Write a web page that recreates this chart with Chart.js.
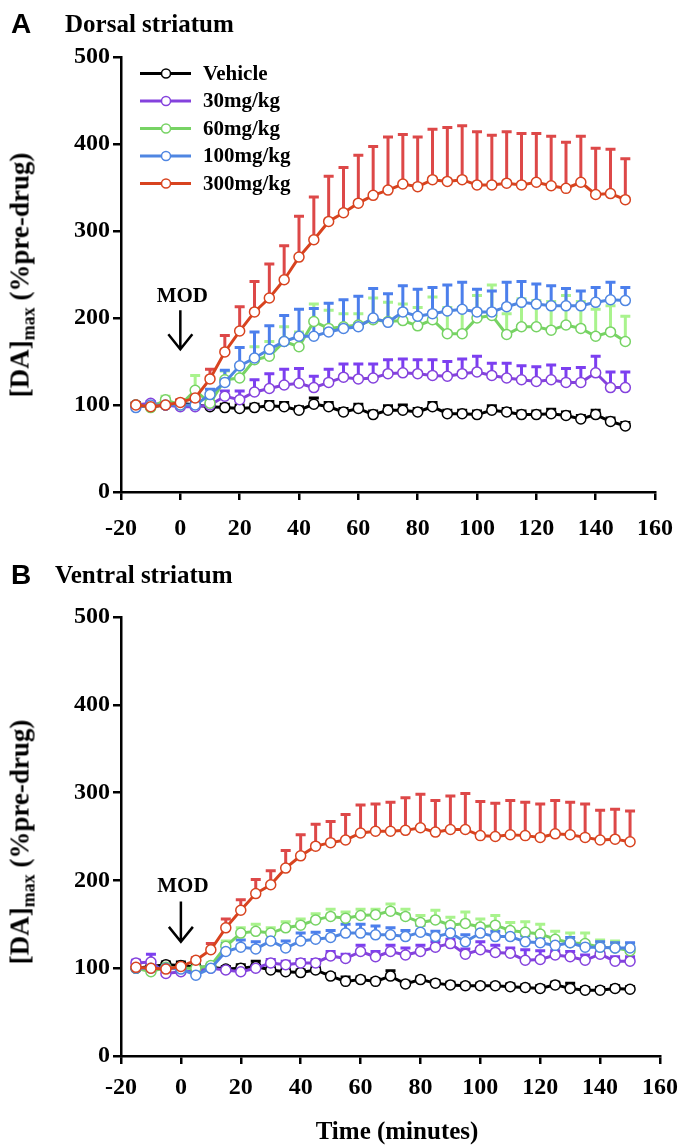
<!DOCTYPE html>
<html>
<head>
<meta charset="utf-8">
<script src="https://cdn.jsdelivr.net/npm/chart.js@4/dist/chart.umd.min.js"></script>
<style>
  html, body { margin: 0; padding: 0; background: #fff; }
  #page { position: relative; width: 687px; height: 1145px; overflow: hidden; color: #000;
          font-family: 'Liberation Serif', 'Times New Roman', serif; font-weight: bold; }
  canvas { position: absolute; left: 0; }
  .letter { position: absolute; font-family: 'Liberation Sans', Arial, sans-serif; font-size: 28px; font-weight: bold; line-height: 1; }
  .title { position: absolute; font-size: 25px; line-height: 1; white-space: nowrap; }
  .ytitle { position: absolute; font-size: 27px; line-height: 1; white-space: nowrap; transform: translate(-50%, -50%) rotate(-90deg); }
  .ytitle sub { font-size: 18px; vertical-align: -6px; }
  .xtitle { position: absolute; font-size: 25px; line-height: 1; white-space: nowrap; transform: translate(-50%, -50%); }
</style>
</head>
<body>
<div id="page">
  <canvas id="chartA" width="687" height="560" style="top:0"></canvas>
  <canvas id="chartB" width="687" height="585" style="top:560px"></canvas>
  <div class="letter" style="left:11px; top:10px">A</div>
  <div class="title" style="left:65px; top:11px">Dorsal striatum</div>
  <div class="letter" style="left:11px; top:561px">B</div>
  <div class="title" style="left:55px; top:562px">Ventral striatum</div>
  <div class="ytitle" style="left:22px; top:275px">[DA]<sub>max</sub> (%pre-drug)</div>
  <div class="ytitle" style="left:22px; top:842px">[DA]<sub>max</sub> (%pre-drug)</div>
  <div class="xtitle" style="left:397px; top:1130px">Time (minutes)</div>
</div>
<script>
const minutes = [-15, -10, -5, 0, 5, 10, 15, 20, 25, 30, 35, 40, 45, 50, 55, 60, 65,
                 70, 75, 80, 85, 90, 95, 100, 105, 110, 115, 120, 125, 130, 135, 140, 145, 150];
const xTicks = [-20, 0, 20, 40, 60, 80, 100, 120, 140, 160];
const yTicks = [0, 100, 200, 300, 400, 500];
const seriesNames = ['Vehicle', '30mg/kg', '60mg/kg', '100mg/kg', '300mg/kg'];
const lineColors = ['#000000', '#8442dd', '#77d364', '#4f86e2', '#d8431f'];
const barColors = ['#000000', '#7c3ff0', '#a9f38d', '#4c7fec', '#dd4848'];

// Dorsal striatum (A)
const vehicleA = [100, 98, 100, 102, 100, 98, 97, 96, 97, 99, 98, 94, 101, 98, 92, 96, 89,
                  94, 94, 92, 98, 90, 90, 89, 94, 92, 89, 89, 90, 88, 84, 89, 81, 76];
const vehicleAErr = [3, 3, 3, 3, 3, 4, 4, 4, 4, 5, 5, 4, 7, 5, 4, 5, 4,
                     5, 6, 4, 5, 4, 4, 4, 5, 4, 4, 4, 5, 4, 4, 5, 4, 4];
const mg30A = [100, 102, 100, 98, 98, 100, 110, 106, 115, 119, 123, 125, 120, 126, 132, 130, 131,
               136, 137, 136, 134, 133, 136, 138, 134, 131, 129, 127, 129, 126, 126, 137, 120, 120];
const mg30AErr = [2, 2, 2, 2, 3, 4, 6, 10, 14, 17, 18, 17, 13, 15, 15, 17, 16,
                  16, 16, 16, 18, 17, 17, 18, 14, 17, 16, 17, 17, 16, 17, 19, 18, 18];
const mg60A = [100, 97, 106, 100, 117, 102, 129, 131, 152, 156, 173, 167, 196, 188, 190, 192, 198,
               196, 197, 191, 198, 182, 182, 200, 203, 181, 190, 190, 186, 192, 188, 179, 184, 173];
const mg60AErr = [2, 3, 4, 3, 17, 5, 10, 12, 15, 17, 17, 17, 20, 21, 15, 13, 25,
                  22, 19, 21, 26, 30, 30, 26, 35, 24, 32, 30, 33, 34, 31, 31, 30, 29];
const mg100A = [97, 100, 100, 100, 100, 112, 126, 145, 154, 164, 173, 179, 179, 184, 188, 190, 200,
                195, 207, 202, 205, 208, 210, 207, 207, 213, 218, 216, 214, 214, 214, 218, 221, 220];
const mg100AErr = [2, 2, 2, 2, 3, 6, 14, 21, 30, 27, 30, 31, 32, 33, 33, 35, 34,
                   33, 30, 31, 30, 30, 31, 26, 24, 28, 24, 23, 23, 20, 17, 17, 20, 15];
const mg300A = [100, 98, 100, 103, 108, 130, 161, 185, 207, 223, 244, 270, 290, 311, 321, 332, 341,
                347, 354, 351, 359, 357, 359, 353, 353, 355, 353, 356, 352, 349, 356, 342, 343, 336];
const mg300AErr = [2, 2, 2, 3, 4, 11, 19, 28, 35, 39, 39, 47, 49, 52, 52, 55, 56,
                   61, 57, 57, 58, 62, 62, 61, 57, 59, 59, 56, 57, 53, 53, 53, 51, 47];

// Ventral striatum (B)
const vehicleB = [100, 102, 104, 103, 101, 101, 99, 100, 102, 98, 96, 95, 98, 91, 85, 87, 85,
                  91, 82, 87, 83, 81, 80, 80, 80, 79, 78, 77, 81, 77, 75, 75, 77, 76];
const vehicleBErr = [3, 3, 3, 4, 3, 3, 3, 4, 6, 3, 3, 3, 3, 3, 5, 3, 3,
                     6, 3, 3, 3, 3, 3, 3, 3, 3, 3, 3, 3, 6, 3, 3, 3, 3];
const mg30B = [106, 107, 94, 96, 97, 100, 98, 96, 100, 106, 104, 106, 106, 114, 111, 119, 113,
               119, 115, 119, 124, 128, 116, 121, 118, 117, 109, 110, 115, 113, 109, 116, 108, 108];
const mg30BErr = [3, 9, 3, 3, 3, 3, 3, 3, 4, 4, 4, 4, 4, 5, 5, 7, 6,
                  7, 8, 7, 6, 5, 6, 9, 8, 6, 12, 10, 5, 6, 6, 6, 5, 5];
const mg60B = [100, 96, 101, 100, 100, 103, 125, 140, 142, 140, 146, 149, 155, 159, 157, 160, 161,
               165, 159, 152, 155, 149, 151, 147, 149, 143, 141, 139, 133, 129, 128, 124, 123, 120];
const mg60BErr = [2, 3, 3, 3, 3, 3, 6, 6, 8, 6, 7, 7, 7, 8, 7, 7, 6,
                  8, 8, 8, 11, 9, 13, 9, 11, 9, 12, 11, 9, 11, 12, 8, 8, 8];
const mg100B = [100, 100, 100, 99, 92, 100, 119, 124, 122, 131, 123, 131, 133, 135, 140, 140, 138,
                138, 136, 141, 136, 140, 130, 140, 136, 136, 130, 129, 126, 129, 124, 124, 123, 123];
const mg100BErr = [3, 3, 3, 3, 3, 3, 9, 8, 8, 9, 8, 9, 8, 8, 10, 10, 10,
                   8, 7, 8, 6, 6, 8, 6, 6, 7, 7, 6, 6, 6, 6, 6, 6, 6];
const mg300B = [101, 100, 99, 102, 109, 121, 146, 166, 185, 195, 214, 228, 239, 243, 246, 254, 256,
                256, 257, 260, 255, 258, 258, 251, 250, 252, 251, 249, 253, 252, 249, 246, 247, 244];
const mg300BErr = [2, 2, 2, 2, 3, 7, 10, 12, 16, 16, 20, 24, 25, 24, 29, 32, 31,
                   33, 37, 38, 36, 38, 41, 39, 38, 39, 38, 38, 38, 37, 38, 34, 34, 35];

const serif = "'Liberation Serif', 'Times New Roman', serif";

// upward-only error bars, drawn under the lines
const errorBars = {
  id: 'errorBars',
  beforeDatasetsDraw(chart) {
    const { ctx, scales: { x, y } } = chart;
    ctx.save();
    ctx.lineWidth = 3;
    chart.data.datasets.forEach(ds => {
      ctx.strokeStyle = ds.errColor;
      ds.data.forEach((p, i) => {
        const px = x.getPixelForValue(p.x);
        const base = y.getPixelForValue(p.y);
        const top = y.getPixelForValue(p.y + ds.errors[i]);
        ctx.beginPath();
        ctx.moveTo(px, base);
        ctx.lineTo(px, top);
        ctx.moveTo(px - 5, top);
        ctx.lineTo(px + 5, top);
        ctx.stroke();
      });
    });
    ctx.restore();
  },
};

// legend with a line + open circle per series
const lineLegend = {
  id: 'lineLegend',
  afterDraw(chart, args, opts) {
    if (!opts.show) return;
    const ctx = chart.ctx;
    ctx.save();
    ctx.font = 'bold 21px ' + serif;
    ctx.textBaseline = 'middle';
    chart.data.datasets.forEach((ds, i) => {
      const yy = opts.top + i * opts.gap;
      ctx.strokeStyle = ds.borderColor;
      ctx.lineWidth = 3;
      ctx.beginPath();
      ctx.moveTo(opts.left, yy);
      ctx.lineTo(opts.left + 51, yy);
      ctx.stroke();
      ctx.beginPath();
      ctx.arc(opts.left + 26, yy, 4.5, 0, Math.PI * 2);
      ctx.fillStyle = '#fff';
      ctx.fill();
      ctx.lineWidth = 1.5;
      ctx.stroke();
      ctx.fillStyle = '#000';
      ctx.fillText(ds.label, opts.left + 63, yy + 1);
    });
    ctx.restore();
  },
};

// "MOD" arrow at time 0
const modMark = {
  id: 'modMark',
  afterDatasetsDraw(chart, args, opts) {
    const { ctx, scales: { x, y } } = chart;
    const px = x.getPixelForValue(0);
    const y0 = y.getPixelForValue(opts.from);
    const y1 = y.getPixelForValue(opts.to);
    ctx.save();
    ctx.fillStyle = '#000';
    ctx.strokeStyle = '#000';
    ctx.font = 'bold 21px ' + serif;
    ctx.textAlign = 'center';
    ctx.textBaseline = 'middle';
    ctx.fillText('MOD', px + 2, y.getPixelForValue(opts.label));
    ctx.lineWidth = 2.5;
    ctx.beginPath();
    ctx.moveTo(px, y0);
    ctx.lineTo(px, y1);
    ctx.moveTo(px - 12, y1 - 15);
    ctx.lineTo(px, y1);
    ctx.lineTo(px + 12, y1 - 15);
    ctx.stroke();
    ctx.restore();
  },
};

function buildChart(id, values, errors, cfg) {
  const datasets = seriesNames.map((name, i) => ({
    label: name,
    data: minutes.map((m, j) => ({ x: m, y: values[i][j] })),
    errors: errors[i],
    errColor: barColors[i],
    borderColor: lineColors[i],
    backgroundColor: '#fff',
    pointBackgroundColor: '#fff',
    pointBorderColor: lineColors[i],
    pointRadius: 5,
    pointBorderWidth: 1.5,
    borderWidth: 3,
    tension: 0,
    order: seriesNames.length - i,
  }));

  const axisGrid = { display: true, drawOnChartArea: false, drawTicks: true, tickLength: 8, color: '#000', lineWidth: 2.5 };
  const tickFont = { family: serif, size: 24, weight: 'bold' };

  return new Chart(document.getElementById(id), {
    type: 'line',
    data: { datasets },
    options: {
      responsive: false,
      animation: false,
      layout: { padding: { top: 57, right: 18, bottom: 0, left: 0 } },
      plugins: {
        legend: { display: false },
        tooltip: { enabled: false },
        lineLegend: { show: cfg.legend, left: 140, top: 73.5, gap: 27.5 },
        modMark: cfg.mod,
      },
      scales: {
        x: {
          type: 'linear', min: -20, max: 160,
          afterBuildTicks: s => { s.ticks = xTicks.map(v => ({ value: v })); },
          afterFit: s => { s.height = cfg.xHeight; },
          grid: axisGrid,
          border: { display: true, color: '#000', width: 2.5 },
          ticks: { color: '#000', font: tickFont, padding: cfg.xPad, maxRotation: 0, autoSkip: false },
        },
        y: {
          min: 0, max: 500,
          afterBuildTicks: s => { s.ticks = yTicks.map(v => ({ value: v })); },
          afterFit: s => { s.width = 121; },
          grid: axisGrid,
          border: { display: true, color: '#000', width: 2.5 },
          ticks: { color: '#000', font: tickFont, padding: 3 },
        },
      },
    },
    plugins: [errorBars, lineLegend, modMark],
  });
}

buildChart('chartA',
  [vehicleA, mg30A, mg60A, mg100A, mg300A],
  [vehicleAErr, mg30AErr, mg60AErr, mg100AErr, mg300AErr],
  { legend: true, xHeight: 68, xPad: 14, mod: { label: 225, from: 209, to: 164 } });

buildChart('chartB',
  [vehicleB, mg30B, mg60B, mg100B, mg300B],
  [vehicleBErr, mg30BErr, mg60BErr, mg100BErr, mg300BErr],
  { legend: false, xHeight: 89, xPad: 9, mod: { label: 193, from: 176, to: 130 } });
</script>
</body>
</html>
